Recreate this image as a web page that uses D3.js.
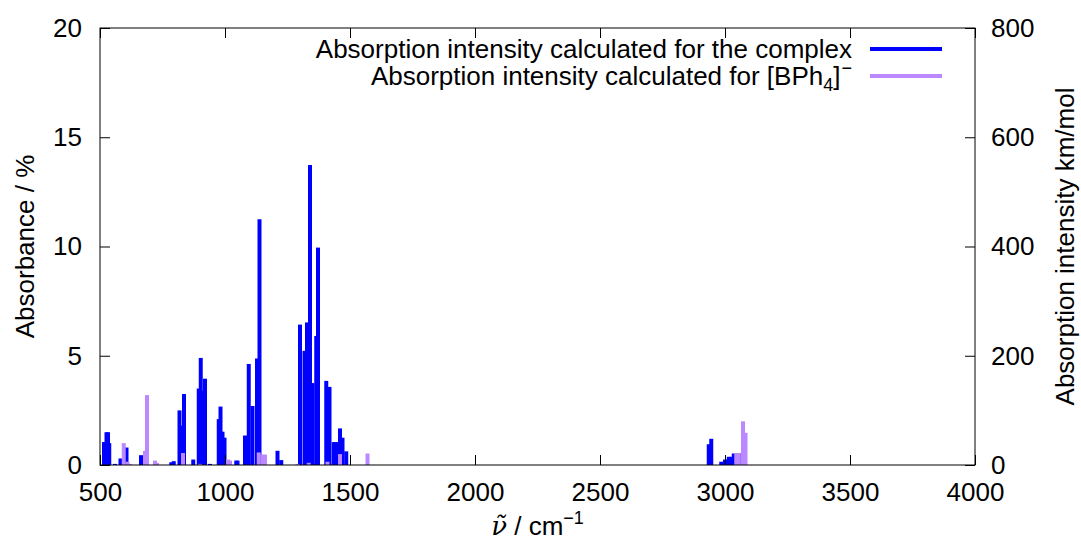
<!DOCTYPE html>
<html>
<head>
<meta charset="utf-8">
<script src="https://cdn.jsdelivr.net/npm/d3@7"></script>
<style>
  html, body { margin: 0; padding: 0; background: #fff; }
  svg { display: block; font-family: "Liberation Sans", Arial, sans-serif; }
</style>
</head>
<body>
<svg id="chart" width="1081" height="543"></svg>
<script>
// ---- data (wavenumber in cm^-1, intensity in km/mol) ----
const complexWavenumbers = [516, 526, 532, 537, 560, 582, 606, 664, 785, 795, 818, 826, 836, 873, 895, 903, 912, 920, 940,
  975, 982, 990, 998, 1045, 1050, 1080, 1095, 1110, 1128, 1138, 1152, 1210, 1225,
  1300, 1318, 1328, 1340, 1350, 1365, 1372, 1405, 1418, 1435, 1448, 1460, 1470, 1485,
  2935, 2945, 2985, 3000, 3015, 3025, 3035, 3045, 3055];
const complexIntensity = [42, 60, 60, 40, 2, 12, 32, 18, 5, 7, 100, 72, 130, 10, 140, 196, 136, 158, 2,
  84, 107, 61, 50, 8, 8, 54, 185, 108, 195, 450, 17, 26, 9,
  257, 209, 261, 549, 150, 236, 398, 154, 143, 42, 42, 67, 50, 25,
  38, 48, 6, 10, 15, 15, 21, 21, 22];

const anionWavenumbers = [595, 610, 620, 680, 688, 720, 728, 832, 900, 1012, 1020, 1135, 1150, 1160, 1290, 1335, 1410, 1460, 1570,
  3045, 3055, 3072, 3082];
const anionIntensity = [40, 6, 2, 26, 128, 8, 4, 22, 2, 10, 8, 23, 19, 19, 2, 4, 6, 20, 21,
  22, 22, 80, 59];

const xTicks = [500, 1000, 1500, 2000, 2500, 3000, 3500, 4000];
const yLeftTicks = [0, 5, 10, 15, 20];
const yRightTicks = [0, 200, 400, 600, 800];

// ---- layout ----
const svg = d3.select("#chart");
const L = 100, R = 975, T = 28, B = 465;
const fs = 26;
const fsSmall = 18;

const x = d3.scaleLinear().domain([500, 4000]).range([L, R]);
const yLeft = d3.scaleLinear().domain([0, 20]).range([B, T]);
const yRight = d3.scaleLinear().domain([0, 800]).range([B, T]);

// impulses
const complexData = complexWavenumbers.map((w, i) => ({ w, v: complexIntensity[i] }));
const anionData = anionWavenumbers.map((w, i) => ({ w, v: anionIntensity[i] }));

svg.append("g").selectAll("line").data(complexData).join("line")
  .attr("x1", d => x(d.w)).attr("x2", d => x(d.w))
  .attr("y1", yRight(0)).attr("y2", d => yRight(d.v))
  .attr("stroke", "#0000ff").attr("stroke-width", 4);

svg.append("g").selectAll("line").data(anionData).join("line")
  .attr("x1", d => x(d.w)).attr("x2", d => x(d.w))
  .attr("y1", yRight(0)).attr("y2", d => yRight(d.v))
  .attr("stroke", "#bb88ff").attr("stroke-width", 4);

// axes
const tickLen = 10;
const fmt = d3.format("d");
const axB = svg.append("g").attr("transform", `translate(0,${B})`)
  .call(d3.axisBottom(x).tickValues(xTicks).tickFormat(fmt).tickSizeInner(-tickLen).tickSizeOuter(0).tickPadding(18));
const axT = svg.append("g").attr("transform", `translate(0,${T})`)
  .call(d3.axisTop(x).tickValues(xTicks).tickSizeInner(-tickLen).tickSizeOuter(0).tickFormat(""));
const axL = svg.append("g").attr("transform", `translate(${L},0)`)
  .call(d3.axisLeft(yLeft).tickValues(yLeftTicks).tickFormat(fmt).tickSizeInner(-tickLen).tickSizeOuter(0).tickPadding(18));
const axR = svg.append("g").attr("transform", `translate(${R},0)`)
  .call(d3.axisRight(yRight).tickValues(yRightTicks).tickFormat(fmt).tickSizeInner(-tickLen).tickSizeOuter(0).tickPadding(16));

[axB, axT, axL, axR].forEach(g => {
  g.select(".domain").remove();
  g.selectAll(".tick line").attr("stroke", "#000").attr("stroke-width", 1);
  g.selectAll(".tick text").attr("font-size", fs).attr("font-family", "Liberation Sans, Arial, sans-serif").attr("fill", "#000");
});

// frame
svg.append("rect").attr("x", L).attr("y", T).attr("width", R - L).attr("height", B - T)
  .attr("fill", "none").attr("stroke", "#000").attr("stroke-width", 1);

// axis labels
svg.append("text")
  .attr("transform", `translate(34,${(T + B) / 2}) rotate(-90)`)
  .attr("text-anchor", "middle").attr("font-size", fs)
  .text("Absorbance / %");

svg.append("text")
  .attr("transform", `translate(1074,${(T + B) / 2}) rotate(-90)`)
  .attr("text-anchor", "middle").attr("font-size", fs)
  .text("Absorption intensity km/mol");

const xl = svg.append("text")
  .attr("x", (L + R) / 2).attr("y", 535)
  .attr("text-anchor", "middle").attr("font-size", fs);
xl.append("tspan").attr("font-style", "italic").attr("font-family", "DejaVu Serif, serif").text("ν\u0303");
xl.append("tspan").text(" / cm");
xl.append("tspan").attr("font-size", fsSmall).attr("dy", -11).text("−1");

// legend
const legendColors = ["#0000ff", "#bb88ff"];
const rows = [49, 76];
const lg = svg.append("g");
lg.append("text").attr("x", 852).attr("y", rows[0] + 9).attr("text-anchor", "end").attr("font-size", fs)
  .text("Absorption intensity calculated for the complex");
const t2 = lg.append("text").attr("x", 852).attr("y", rows[1] + 9).attr("text-anchor", "end").attr("font-size", fs);
t2.append("tspan").text("Absorption intensity calculated for [BPh");
t2.append("tspan").attr("font-size", fsSmall).attr("dy", 6).text("4");
t2.append("tspan").attr("dy", -6).text("]");
t2.append("tspan").attr("font-size", fsSmall).attr("dy", -11).attr("dx", 1).text("−");
legendColors.forEach((c, i) => {
  lg.append("line").attr("x1", 870).attr("x2", 942).attr("y1", rows[i]).attr("y2", rows[i])
    .attr("stroke", c).attr("stroke-width", 4);
});
</script>
</body>
</html>
